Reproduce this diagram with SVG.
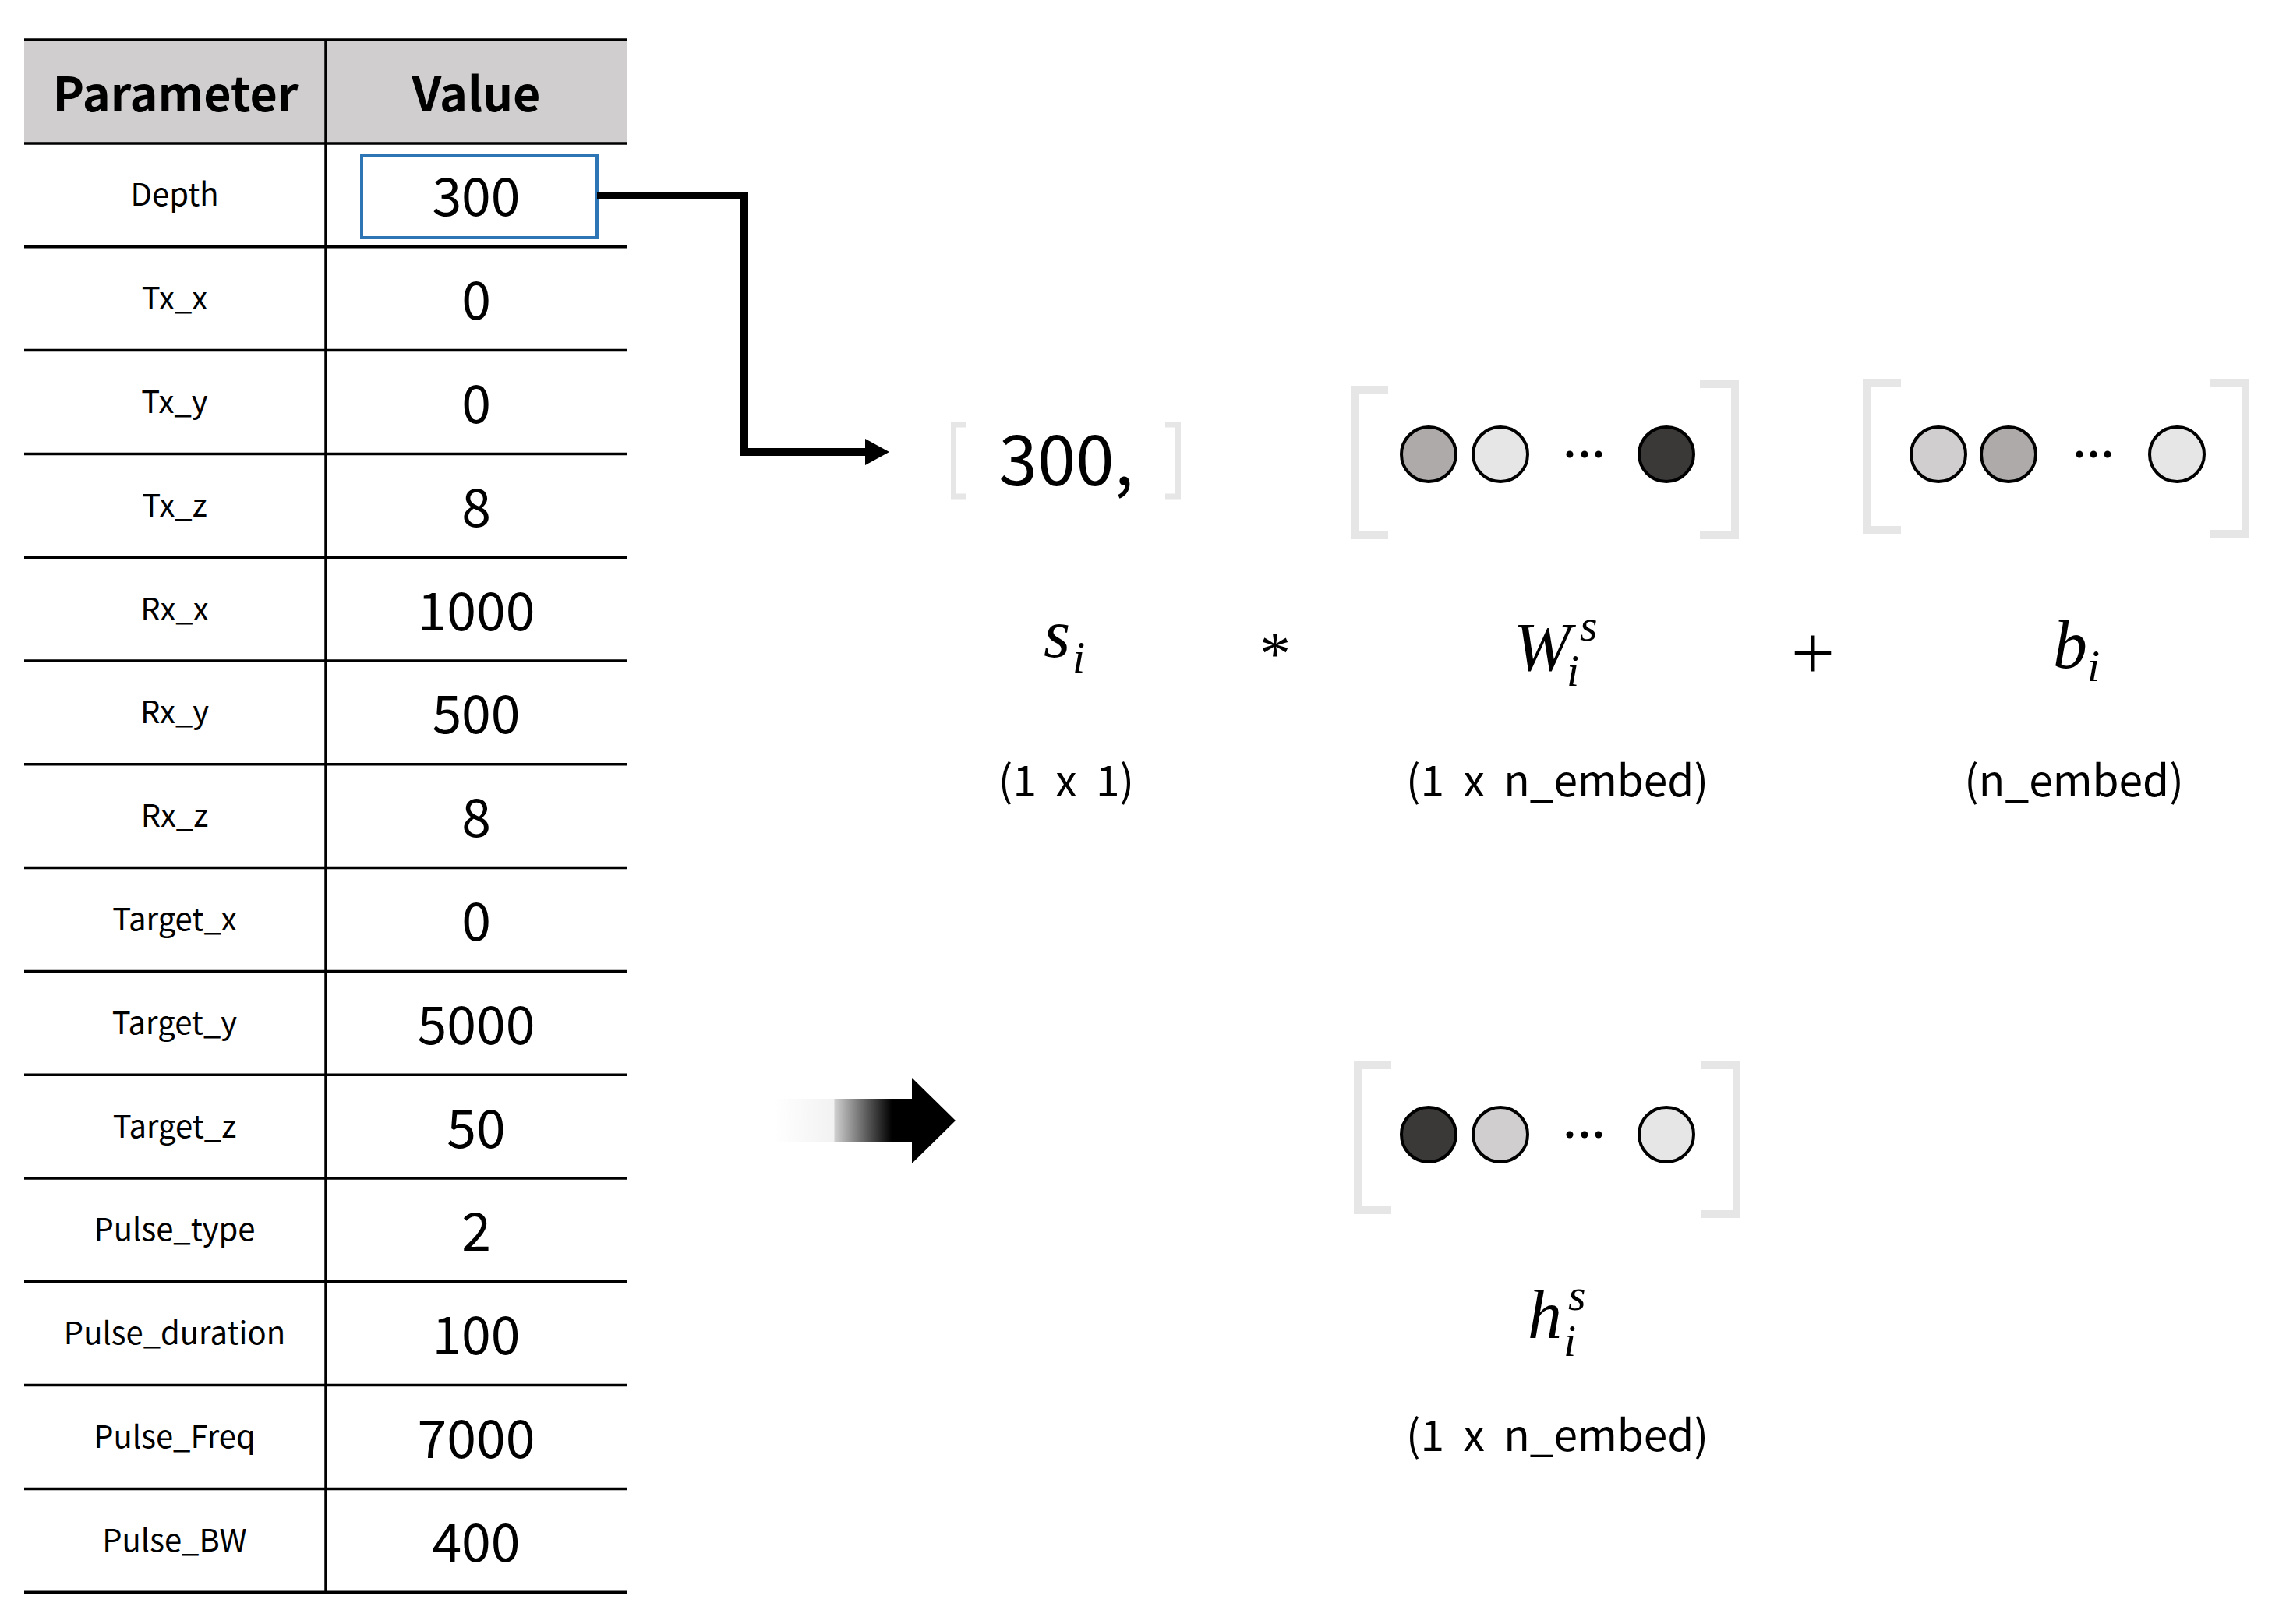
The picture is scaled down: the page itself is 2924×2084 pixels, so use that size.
<svg xmlns="http://www.w3.org/2000/svg" width="2924" height="2084" viewBox="0 0 2924 2084">
<style>
.hdr{font-family:"Noto Sans CJK KR","Noto Sans",sans-serif;font-weight:bold;font-size:61px;fill:#000;text-anchor:middle}
.par{font-family:"Noto Sans CJK KR","Noto Sans",sans-serif;font-size:40px;fill:#000;text-anchor:middle}
.val{font-family:"Noto Sans CJK KR","Noto Sans",sans-serif;font-size:68px;fill:#000;text-anchor:middle}
.dim{font-family:"Noto Sans CJK KR","Noto Sans",sans-serif;font-size:55px;fill:#000;text-anchor:middle;word-spacing:12px}
.math{font-family:"Liberation Serif",serif;font-style:italic;font-size:88px;fill:#000}
.sub{font-size:58px}
.rule{stroke:#000;stroke-width:3.5}
.brk{fill:none;stroke:#E6E6E6;stroke-width:10}
.brk2{fill:none;stroke:#E6E6E6;stroke-width:7}
.c{stroke:#000;stroke-width:4}
.dark{fill:#3B3838}.mid{fill:#AEAAAA}.lt{fill:#D0CECE}.xlt{fill:#E7E6E6}
</style>
<defs>
<marker id="ah" markerWidth="32" markerHeight="34" refX="0" refY="17" orient="auto" markerUnits="userSpaceOnUse"><path d="M0,0 L31,17 L0,34 z" fill="#000"/></marker>
<linearGradient id="fade" gradientUnits="userSpaceOnUse" x1="993" y1="0" x2="1226" y2="0">
<stop offset="0" stop-color="#fff"/>
<stop offset="0.33" stop-color="#f2f2f2"/>
<stop offset="0.335" stop-color="#cfcfcf"/>
<stop offset="0.65" stop-color="#000"/>
<stop offset="1" stop-color="#000"/>
</linearGradient>
</defs>
<rect width="2924" height="2084" fill="#fff"/>

<g id="table">
<rect x="31" y="51" width="774" height="133" fill="#D0CECE"/>
<line class="rule" x1="31" y1="51" x2="805" y2="51" stroke-width="4"/>
<line class="rule" x1="418" y1="51" x2="418" y2="2043"/>
<g class="rule">
<line x1="31" y1="184" x2="805" y2="184"/>
<line x1="31" y1="316.8" x2="805" y2="316.8"/>
<line x1="31" y1="449.6" x2="805" y2="449.6"/>
<line x1="31" y1="582.4" x2="805" y2="582.4"/>
<line x1="31" y1="715.2" x2="805" y2="715.2"/>
<line x1="31" y1="848" x2="805" y2="848"/>
<line x1="31" y1="980.8" x2="805" y2="980.8"/>
<line x1="31" y1="1113.6" x2="805" y2="1113.6"/>
<line x1="31" y1="1246.4" x2="805" y2="1246.4"/>
<line x1="31" y1="1379.2" x2="805" y2="1379.2"/>
<line x1="31" y1="1512" x2="805" y2="1512"/>
<line x1="31" y1="1644.8" x2="805" y2="1644.8"/>
<line x1="31" y1="1777.6" x2="805" y2="1777.6"/>
<line x1="31" y1="1910.4" x2="805" y2="1910.4"/>
<line x1="31" y1="2043.2" x2="805" y2="2043.2"/>
</g>
<text class="hdr" x="225" y="143">Parameter</text>
<text class="hdr" x="611" y="143">Value</text>
<text class="par" x="224" y="264">Depth</text>
<text class="par" x="224" y="397">Tx_x</text>
<text class="par" x="224" y="530">Tx_y</text>
<text class="par" x="224" y="663">Tx_z</text>
<text class="par" x="224" y="796">Rx_x</text>
<text class="par" x="224" y="928">Rx_y</text>
<text class="par" x="224" y="1061">Rx_z</text>
<text class="par" x="224" y="1194">Target_x</text>
<text class="par" x="224" y="1327">Target_y</text>
<text class="par" x="224" y="1460">Target_z</text>
<text class="par" x="224" y="1592">Pulse_type</text>
<text class="par" x="224" y="1725">Pulse_duration</text>
<text class="par" x="224" y="1858">Pulse_Freq</text>
<text class="par" x="224" y="1991">Pulse_BW</text>
<text class="val" x="611" y="277">300</text>
<text class="val" x="611" y="410">0</text>
<text class="val" x="611" y="543">0</text>
<text class="val" x="611" y="676">8</text>
<text class="val" x="611" y="809">1000</text>
<text class="val" x="611" y="941">500</text>
<text class="val" x="611" y="1074">8</text>
<text class="val" x="611" y="1207">0</text>
<text class="val" x="611" y="1340">5000</text>
<text class="val" x="611" y="1473">50</text>
<text class="val" x="611" y="1605">2</text>
<text class="val" x="611" y="1738">100</text>
<text class="val" x="611" y="1871">7000</text>
<text class="val" x="611" y="2004">400</text>
</g>

<g id="depth-highlight">
<rect x="464" y="199" width="302" height="106" fill="none" stroke="#2E75B6" stroke-width="4"/>
</g>

<g id="connectors">
<path d="M766,251 H955 V580 H1110" fill="none" stroke="#000" stroke-width="10" marker-end="url(#ah)"/>
<path d="M993,1410 H1170 V1383 L1226,1438 L1170,1493 V1465 H993 Z" fill="url(#fade)"/>
</g>

<g id="s-vector">
<path class="brk2" d="M1240,545 H1223.5 V637 H1240"/>
<path class="brk2" d="M1495,545 H1511.5 V637 H1495"/>
<text x="1368" y="623" text-anchor="middle" style="font-family:'Noto Sans CJK KR','Noto Sans',sans-serif;font-size:89px">300,</text>
</g>

<g id="W-vector">
<path class="brk" d="M1781,500 H1738 V687 H1781"/>
<path class="brk" d="M2181,493 H2226 V687 H2181"/>
<circle class="c mid" cx="1833" cy="583" r="35"/>
<circle class="c xlt" cx="1925" cy="583" r="35"/>
<circle cx="2014" cy="583" r="4.5"/><circle cx="2033" cy="583" r="4.5"/><circle cx="2051" cy="583" r="4.5"/>
<circle class="c dark" cx="2138" cy="583" r="35"/>
</g>

<g id="b-vector">
<path class="brk" d="M2439,491 H2395 V680 H2439"/>
<path class="brk" d="M2836,491 H2881 V685 H2836"/>
<circle class="c lt" cx="2487" cy="583" r="35"/>
<circle class="c mid" cx="2577" cy="583" r="35"/>
<circle cx="2668" cy="583" r="4.5"/><circle cx="2686" cy="583" r="4.5"/><circle cx="2704" cy="583" r="4.5"/>
<circle class="c xlt" cx="2793" cy="583" r="35"/>
</g>

<g id="h-vector">
<path class="brk" d="M1785,1367 H1742 V1553 H1785"/>
<path class="brk" d="M2183,1367 H2228 V1558 H2183"/>
<circle class="c dark" cx="1833" cy="1456" r="35"/>
<circle class="c lt" cx="1925" cy="1456" r="35"/>
<circle cx="2014" cy="1456" r="4.5"/><circle cx="2033" cy="1456" r="4.5"/><circle cx="2051" cy="1456" r="4.5"/>
<circle class="c xlt" cx="2138" cy="1456" r="35"/>
</g>

<g id="equation">
<text class="math" x="1339" y="843">s<tspan class="sub" x="1376" y="863">i</tspan></text>
<text x="1636" y="866" text-anchor="middle" style="font-family:'Liberation Serif',serif;font-size:80px">*</text>
<text class="math" x="1942" y="860">W<tspan class="sub" x="2027" y="822">s</tspan><tspan class="sub" x="2010" y="880">i</tspan></text>
<text x="2326" y="872" text-anchor="middle" style="font-family:'Liberation Serif',serif;font-size:100px">+</text>
<text class="math" x="2634" y="857">b<tspan class="sub" x="2678" y="874">i</tspan></text>
<text class="dim" x="1368" y="1022">(1 x 1)</text>
<text class="dim" x="1998" y="1022">(1 x n_embed)</text>
<text class="dim" x="2661" y="1022">(n_embed)</text>
</g>

<g id="h-label">
<text class="math" x="1960" y="1717">h<tspan class="sub" x="2012" y="1681">s</tspan><tspan class="sub" x="2006" y="1740">i</tspan></text>
<text class="dim" x="1998" y="1862">(1 x n_embed)</text>
</g>
</svg>
